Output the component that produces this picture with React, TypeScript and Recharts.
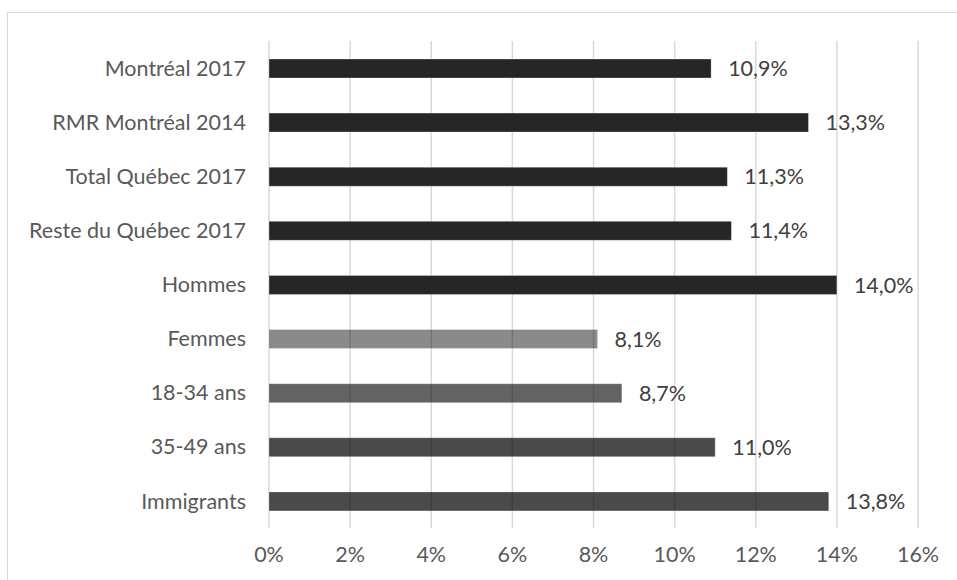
import { BarChart, Bar, XAxis, YAxis, CartesianGrid, Cell, LabelList } from "recharts";

const categories = [
  "Montréal 2017",
  "RMR Montréal 2014",
  "Total Québec 2017",
  "Reste du Québec 2017",
  "Hommes",
  "Femmes",
  "18-34 ans",
  "35-49 ans",
  "Immigrants",
];
const values = [10.9, 13.3, 11.3, 11.4, 14.0, 8.1, 8.7, 11.0, 13.8];
const barColors = [
  "#262626", "#262626", "#262626", "#262626", "#262626",
  "rgba(0,0,0,0.46)", "rgba(0,0,0,0.61)", "rgba(0,0,0,0.71)", "rgba(0,0,0,0.71)",
];
const xTicks = [0, 2, 4, 6, 8, 10, 12, 14, 16];

const data = categories.map((name, i) => ({ name, value: values[i] }));

const FONT = "Lato, 'Open Sans', sans-serif";
const fmtPct = (v: number) => `${v.toFixed(1).replace(".", ",")}%`;

export default function App() {
  return (
    <div style={{ position: "absolute", left: 0, top: 0, width: 957, height: 580, background: "#fff", overflow: "hidden", fontFamily: FONT }}>
      {/* chart frame, runs past the right and bottom edges */}
      <div style={{ position: "absolute", left: 7, top: 12, width: 1000, height: 620, border: "1.5px solid #d9d9d9" }} />
      <div style={{ position: "absolute", left: 0, top: 0 }}>
        <BarChart
          width={957}
          height={580}
          data={data}
          layout="vertical"
          margin={{ top: 41, right: 39, bottom: 22, left: 0 }}
        >
          <CartesianGrid horizontal={false} stroke="#d9d9d9" strokeWidth={1.5} />
          <XAxis
            type="number"
            domain={[0, 16]}
            ticks={xTicks}
            tickFormatter={v => `${v}%`}
            axisLine={false}
            tickLine={false}
            tickSize={0}
            tickMargin={19}
            interval={0}
            height={30}
            tick={{ fontSize: 21.5, fill: "#595959", fontFamily: FONT }}
          />
          <YAxis
            type="category"
            dataKey="name"
            width={269}
            axisLine={false}
            tickLine={false}
            tickSize={0}
            tickMargin={23}
            interval={0}
            tick={{ fontSize: 21.5, fill: "#595959", fontFamily: FONT }}
          />
          <Bar dataKey="value" barSize={19} isAnimationActive={false} stroke="rgba(255,255,255,0.3)" strokeWidth={1}>
            {data.map((d, i) => (
              <Cell key={d.name} fill={barColors[i]} />
            ))}
            <LabelList
              dataKey="value"
              position="right"
              offset={17}
              formatter={(v: number) => fmtPct(v)}
              style={{ fontSize: 21.5, fill: "#404040", fontFamily: FONT }}
            />
          </Bar>
        </BarChart>
      </div>
    </div>
  );
}
